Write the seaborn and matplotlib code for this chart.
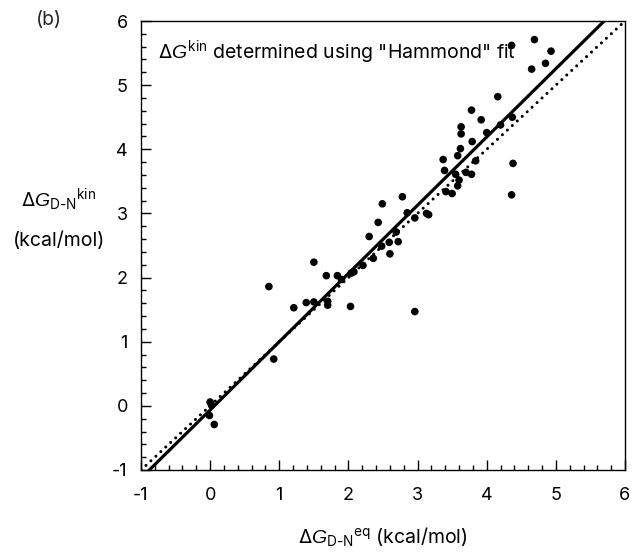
import numpy as np
import pandas as pd
import matplotlib
matplotlib.use("Agg")
import matplotlib.pyplot as plt
from matplotlib.ticker import MultipleLocator
import seaborn as sns

# ---- data ----
dg_eq = [4.69, 4.93, 4.85, 4.65, 4.36,
         4.16, 3.78, 3.92, 3.63, 3.63, 4.00, 4.20, 4.37, 3.79, 3.62, 3.58, 3.37, 3.84,
         3.39, 3.55, 3.70, 3.78, 3.60, 3.58, 3.41, 3.50, 4.38, 4.36,
         2.78, 2.49, 2.43, 2.85, 2.96, 3.16, 3.13,
         2.30, 2.69, 2.59, 2.72, 2.48, 2.60, 2.36, 2.21, 2.04, 2.08,
         1.50, 1.68, 1.84, 1.90, 0.85, 1.21, 1.39, 1.50, 1.70, 1.70, 2.03, 2.96,
         0.92, 0.00, 0.02, -0.01, 0.06]
dg_kin = [5.71, 5.53, 5.34, 5.25, 5.62,
          4.82, 4.61, 4.46, 4.35, 4.24, 4.26, 4.38, 4.50, 4.12, 4.01, 3.90, 3.84, 3.82,
          3.67, 3.61, 3.64, 3.61, 3.52, 3.43, 3.34, 3.31, 3.78, 3.29,
          3.26, 3.15, 2.86, 3.01, 2.93, 2.98, 3.00,
          2.64, 2.71, 2.55, 2.56, 2.49, 2.37, 2.30, 2.19, 2.07, 2.09,
          2.24, 2.03, 2.03, 1.97, 1.86, 1.53, 1.61, 1.62, 1.63, 1.57, 1.55, 1.47,
          0.73, 0.06, 0.01, -0.15, -0.29]
fit_slope = 1.064
fit_intercept = -0.064
axis_range = [-1, 6]
tick_values = [-1, 0, 1, 2, 3, 4, 5, 6]

df = pd.DataFrame({"eq": dg_eq, "kin": dg_kin})

sns.set_theme(style="white")
plt.rcParams["font.family"] = ["Inter", "Liberation Sans", "DejaVu Sans"]
plt.rcParams["mathtext.fontset"] = "custom"
plt.rcParams["mathtext.rm"] = "Inter"
plt.rcParams["mathtext.it"] = "Liberation Sans:italic"
plt.rcParams["mathtext.bf"] = "Inter:bold"
plt.rcParams["axes.unicode_minus"] = False

fig = plt.figure(figsize=(6.32, 5.59), dpi=100)
ax = fig.add_axes([141 / 632, 1 - 470 / 559, 484 / 632, 449 / 559])

xl = np.array(axis_range, dtype=float)
line_df = pd.DataFrame({"x": xl, "fit": fit_slope * xl + fit_intercept, "ident": xl})

ax.plot(line_df["x"], line_df["ident"], color="black", lw=2.2,
        linestyle=(0, (0.01, 2.2)), dash_capstyle="round", zorder=2)
sns.lineplot(data=line_df, x="x", y="fit", color="black", lw=2.3, ax=ax, zorder=3)
sns.scatterplot(data=df, x="eq", y="kin", color="black", s=30, edgecolor="none",
                ax=ax, zorder=4)

ax.set_xlim(axis_range)
ax.set_ylim(axis_range)
ax.set_xticks(tick_values)
ax.set_yticks(tick_values)
ax.xaxis.set_minor_locator(MultipleLocator(0.2))
ax.yaxis.set_minor_locator(MultipleLocator(0.2))
ax.tick_params(which="both", direction="in", top=False, right=False,
               bottom=True, left=True, color="black", width=1)
ax.tick_params(which="major", length=7, labelsize=13, colors="black")
ax.tick_params(which="minor", length=3.5)
ax.tick_params(axis="x", which="major", pad=12.5)
ax.tick_params(axis="y", which="major", pad=9.5)
for s in ax.spines.values():
    s.set_color("black")
    s.set_linewidth(1.0)

ax.set_xlabel(r"$\mathit{\Delta G}_{\mathrm{D\text{-}N}}{}^{\mathrm{eq}}$ (kcal/mol)",
              fontsize=14, color="black", va="baseline")
ax.xaxis.set_label_coords(0.5, -0.163)

ax.set_ylabel("")
ax.text(-0.17, 0.601, r"$\mathit{\Delta G}_{\mathrm{D\text{-}N}}{}^{\mathrm{kin}}$",
        transform=ax.transAxes, fontsize=14, ha="center", va="center", color="black")
ax.text(-0.17, 0.51, "(kcal/mol)", transform=ax.transAxes, fontsize=14,
        ha="center", va="center", color="black")

ax.text(0.035, 0.931, r'$\mathit{\Delta G}^{\mathrm{kin}}$ determined using "Hammond" fit',
        transform=ax.transAxes, fontsize=14, ha="left", va="center", color="black",
        zorder=1)
fig.text(49 / 632, 1 - 20 / 559, "(b)", fontsize=14, ha="center", va="center")

fig.savefig("out.png", dpi=100)
